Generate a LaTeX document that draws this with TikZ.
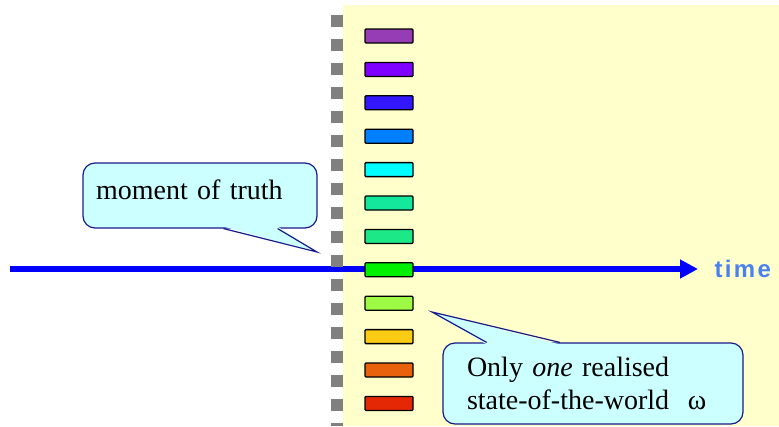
\documentclass[tikz,border=0pt]{standalone}
\usepackage{xcolor}
\usepackage{fontspec}
\setmainfont{Liberation Serif}
\setsansfont{Liberation Sans}
\usepackage{tikz}
\usetikzlibrary{arrows.meta,calc}
\definecolor{zeminSari}{HTML}{FFFFCC}
\definecolor{balonCamgobegi}{HTML}{CCFFFF}
\definecolor{balonKenar}{HTML}{1A1A8C}
\definecolor{eksenMavi}{HTML}{0000FF}
\definecolor{zamanMavi}{HTML}{4A80F0}
\definecolor{kesikGri}{HTML}{808080}
\definecolor{durumMor}{HTML}{963CB4}
\definecolor{durumEflatun}{HTML}{7F00FF}
\definecolor{durumLacivert}{HTML}{3318FF}
\definecolor{durumGok}{HTML}{0080FF}
\definecolor{durumTurkuaz}{HTML}{00FFFF}
\definecolor{durumNane}{HTML}{14E89C}
\definecolor{durumDeniz}{HTML}{1CE888}
\definecolor{durumYesil}{HTML}{00F000}
\definecolor{durumFistik}{HTML}{9EFA44}
\definecolor{durumKehribar}{HTML}{FCCB14}
\definecolor{durumTuruncu}{HTML}{E8620E}
\definecolor{durumKirmizi}{HTML}{E42806}

\begin{document}
\begin{tikzpicture}[x=1pt,y=-1pt,
  balon/.style={draw=balonKenar,fill=balonCamgobegi,line width=1.2pt,rounded corners=12pt,
    align=left,font=\fontsize{28}{33}\selectfont},
  durum/.style={draw=black,line width=1.3pt,rounded corners=1pt}]
\useasboundingbox (0,0) rectangle (779,426);
\fill[zeminSari] (343,5) rectangle (779,426);
\coordinate (eksenBas) at (10,269);
\node[anchor=west,text=zamanMavi,font=\sffamily\bfseries\fontsize{24}{28}\selectfont\addfontfeature{LetterSpace=10}] (zaman) at (711,269) {time};
\draw[eksenMavi,line width=6pt,-{Triangle[length=18pt,width=18pt]},shorten >=13pt] (eksenBas) -- (zaman.west);
\draw[kesikGri,line width=12pt,dash pattern=on 12pt off 12pt] (337,15) -- (337,426);
\filldraw[durum,fill=durumMor] (365,29) rectangle (413,43);
\filldraw[durum,fill=durumEflatun] (365,62.4) rectangle (413,76.4);
\filldraw[durum,fill=durumLacivert] (365,95.8) rectangle (413,109.8);
\filldraw[durum,fill=durumGok] (365,129.2) rectangle (413,143.2);
\filldraw[durum,fill=durumTurkuaz] (365,162.6) rectangle (413,176.6);
\filldraw[durum,fill=durumNane] (365,196) rectangle (413,210);
\filldraw[durum,fill=durumDeniz] (365,229.4) rectangle (413,243.4);
\filldraw[durum,fill=durumYesil] (365,262.8) rectangle (413,276.8);
\filldraw[durum,fill=durumFistik] (365,296.2) rectangle (413,310.2);
\filldraw[durum,fill=durumKehribar] (365,329.6) rectangle (413,343.6);
\filldraw[durum,fill=durumTuruncu] (365,363) rectangle (413,377);
\filldraw[durum,fill=durumKirmizi] (365,396.4) rectangle (413,410.4);
% moment of truth
\node[balon,minimum width=234pt,minimum height=65pt,text width=208pt,inner xsep=13pt,text depth=12pt] (an) at (200,195.5) {moment of truth};
\coordinate (anUc) at (317,252);
\coordinate (anA) at ($(an.south west)!0.6!(an.south east)$);
\coordinate (anB) at ($(an.south west)!0.83!(an.south east)$);
\fill[balonCamgobegi] ([yshift=2pt]anA) -- (anUc) -- ([yshift=2pt]anB) -- cycle;
\draw[balonKenar,line width=1.2pt] (anA) -- (anUc) -- (anB);
% state of the world
\node[balon,minimum width=300pt,minimum height=81pt,text width=252pt,inner xsep=24pt] (omega) at (593,383.5) {Only \textit{one} realised\\state-of-the-world\ \ ω};
\coordinate (omegaUc) at (432,312);
\coordinate (omegaA) at ($(omega.north west)!0.147!(omega.north east)$);
\coordinate (omegaB) at ($(omega.north west)!0.39!(omega.north east)$);
\fill[balonCamgobegi] ([yshift=-2pt]omegaA) -- (omegaUc) -- ([yshift=-2pt]omegaB) -- cycle;
\draw[balonKenar,line width=1.2pt] (omegaA) -- (omegaUc) -- (omegaB);
\end{tikzpicture}
\end{document}
